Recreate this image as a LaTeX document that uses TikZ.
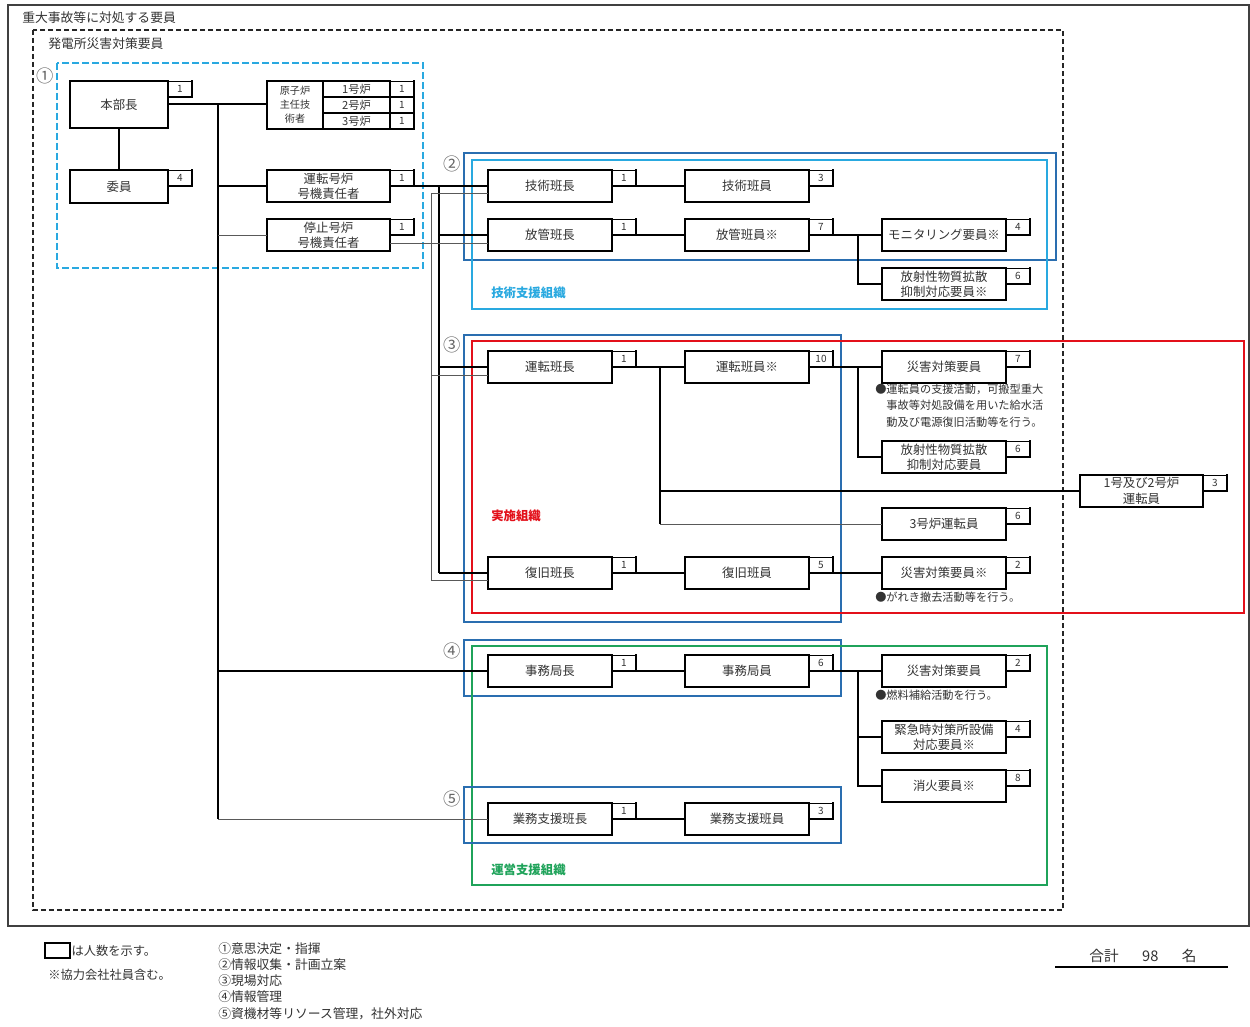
\documentclass[tikz,border=0pt]{standalone}
\usepackage{fontspec}
\setmainfont{Noto Sans CJK JP}
\usetikzlibrary{calc}
\definecolor{cyanB}{HTML}{29A9E0}
\definecolor{blueB}{HTML}{2A6EB0}
\definecolor{redB}{HTML}{E3101A}
\definecolor{greenB}{HTML}{1FA35A}
\definecolor{txt}{HTML}{333333}
\tikzset{
  wh/.style 2 args={minimum width=#1*0.75pt, minimum height=#2*0.75pt},
  shadowRB/.style={append after command={(\tikzlastnode.north east) edge[draw, line width=#1, line cap=rect] (\tikzlastnode.south east) (\tikzlastnode.south east) edge[draw, line width=#1, line cap=rect] (\tikzlastnode.south west)}},
  mbox/.style={draw, line width=1.2pt, fill=white, inner sep=0pt, outer sep=0pt, anchor=north west, align=center, text=txt, font=\fontsize{9.3}{11.5}\selectfont, shadowRB=1.9pt},
  cbox/.style={draw, line width=0.5pt, fill=white, inner sep=0pt, outer sep=0pt, anchor=north west, wh={24}{16}, text=txt, font=\fontsize{7.5}{8}\selectfont, shadowRB=1.2pt},
  thk/.style={line width=1.5pt, black},
  thm/.style={line width=1pt, black},
  thn/.style={line width=0.7pt, black!65},
  note/.style={text=txt, font=\fontsize{8.4}{12.2}\selectfont, align=left, inner sep=0pt},
  lbl/.style={text=txt, font=\fontsize{9.6}{12}\selectfont, inner sep=0pt},
  circ/.style={text=black!60, font=\fontsize{13}{14}\selectfont, inner sep=0pt},
}
\newcommand\mkbox[7]{%
  \node[mbox, wh={#4}{#5}] (#1) at (#2,#3) {#6};
  \node[cbox] (#1-n) at (#1.north east) {#7};}
\begin{document}
\begin{tikzpicture}[x=0.75pt,y=-0.75pt]
\useasboundingbox[fill=white] (0,0) rectangle (1250,1027);
% frames
\draw[line width=1pt, black!75] (8,5) rectangle (1249,926);
\draw[line width=1pt, dash pattern=on 4pt off 2pt, black!85] (33,30) rectangle (1063,910);
\draw[line width=1pt, dash pattern=on 5pt off 2.5pt, cyanB] (57,63) rectangle (423,268);
\draw[line width=1.2pt, blueB] (464,153) rectangle (1056,260);
\draw[line width=1.5pt, cyanB] (472,160) rectangle (1047,309);
\draw[line width=1pt, blueB] (464,335) rectangle (841,622);
\draw[line width=1.5pt, redB] (472,341) rectangle (1244,613);
\draw[line width=1.2pt, blueB] (464,640) rectangle (841,696);
\draw[line width=1.5pt, greenB] (472,646) rectangle (1047,885);
\draw[line width=1.2pt, blueB] (464,787) rectangle (841,843);
% titles
\node[lbl, anchor=west] (title) at (22,18) {重大事故等に対処する要員};
\node[lbl, anchor=west] (title2) at (48,44) {発電所災害対策要員};
\node[circ] (c1) at (45,76) {①};
\node[circ] (c2) at (452,164) {②};
\node[circ] (c3) at (452,345) {③};
\node[circ] (c4) at (452,651) {④};
\node[circ] (c5) at (452,799) {⑤};
\node[lbl, anchor=west, text=cyanB, font=\fontsize{9.3}{10}\selectfont\bfseries] (lg2) at (491,293) {技術支援組織};
\node[lbl, anchor=west, text=redB, font=\fontsize{9.3}{10}\selectfont\bfseries] (lg3) at (491,516) {実施組織};
\node[lbl, anchor=west, text=greenB, font=\fontsize{9.3}{10}\selectfont\bfseries] (lg4) at (491,870) {運営支援組織};
% headquarters group
\mkbox{hq}{70}{81}{98}{47}{本部長}{1}
\mkbox{iin}{70}{170}{98}{33}{委員}{4}
\node[mbox, wh={56}{48}, font=\fontsize{7.6}{10.5}\selectfont, shadowRB=1.2pt] (reac) at (267,81) {原子炉\\主任技\\術者};
\node[mbox, wh={67}{16}, line width=0.9pt, font=\fontsize{8.4}{9}\selectfont, shadowRB=1.2pt] (r1) at (323,81) {1号炉};
\node[mbox, wh={67}{16}, line width=0.9pt, font=\fontsize{8.4}{9}\selectfont, shadowRB=1.2pt] (r2) at (323,97) {2号炉};
\node[mbox, wh={67}{16}, line width=0.9pt, font=\fontsize{8.4}{9}\selectfont, shadowRB=1.2pt] (r3) at (323,113) {3号炉};
\node[cbox] (r1-n) at (r1.north east) {1};
\node[cbox] (r2-n) at (r2.north east) {1};
\node[cbox] (r3-n) at (r3.north east) {1};
\mkbox{unt}{267}{170}{123}{32}{運転号炉\\号機責任者}{1}
\mkbox{tei}{267}{219}{123}{32}{停止号炉\\号機責任者}{1}
% section 2
\mkbox{gic}{488}{170}{124}{32}{技術班長}{1}
\mkbox{gim}{685}{170}{124}{32}{技術班員}{3}
\mkbox{hkc}{488}{219}{124}{32}{放管班長}{1}
\mkbox{hkm}{685}{219}{124}{32}{放管班員※}{7}
\mkbox{mon}{882}{219}{124}{32}{モニタリング要員※}{4}
\mkbox{hos}{882}{268}{124}{32}{放射性物質拡散\\抑制対応要員※}{6}
% section 3
\mkbox{ukc}{488}{351}{124}{32}{運転班長}{1}
\mkbox{ukm}{685}{351}{124}{32}{運転班員※}{10}
\mkbox{sai1}{882}{351}{124}{32}{災害対策要員}{7}
\mkbox{hos2}{882}{441}{124}{32}{放射性物質拡散\\抑制対応要員}{6}
\mkbox{op12}{1080}{475}{123}{32}{1号及び2号炉\\運転員}{3}
\mkbox{op3}{882}{508}{124}{32}{3号炉運転員}{6}
\mkbox{fkc}{488}{557}{124}{32}{復旧班長}{1}
\mkbox{fkm}{685}{557}{124}{32}{復旧班員}{5}
\mkbox{sai2}{882}{557}{124}{32}{災害対策要員※}{2}
% section 4/5
\mkbox{jmc}{488}{655}{124}{32}{事務局長}{1}
\mkbox{jmm}{685}{655}{124}{32}{事務局員}{6}
\mkbox{sai3}{882}{655}{124}{32}{災害対策要員}{2}
\mkbox{kin}{882}{721}{124}{32}{緊急時対策所設備\\対応要員※}{4}
\mkbox{sho}{882}{770}{124}{32}{消火要員※}{8}
\mkbox{gyc}{488}{803}{124}{32}{業務支援班長}{1}
\mkbox{gym}{685}{803}{124}{32}{業務支援班員}{3}
% notes
\node[note, anchor=north west] (n1) at (875,384) {●運転員の支援活動，可搬型重大\\\hspace*{1em}事故等対処設備を用いた給水活\\\hspace*{1em}動及び電源復旧活動等を行う。};
\node[note, anchor=west] (n2) at (875,597) {●がれき撤去活動等を行う。};
\node[note, anchor=west] (n3) at (875,695) {●燃料補給活動を行う。};
% bus coordinates
\coordinate (trunkX) at (218,0);
\coordinate (busA) at (439,0);
\coordinate (busB) at (431,0);
\coordinate (brA) at (660,0);
\coordinate (brB) at (858,0);
% HQ connectors
\draw[thk] (hq.east) -- (hq.east -| reac.west);
\draw[thk] (hq.east -| trunkX) -- (gyc.west -| trunkX);
\draw[thk] (hq.south) -- (iin.north);
\draw[thk] (unt.west -| trunkX) -- (unt.west);
\draw[thn] (tei.west -| trunkX) -- (tei.west);
\draw[thk] (jmc.west -| trunkX) -- (jmc.west);
\draw[thn] (gyc.west -| trunkX) -- (gyc.west);
% buses to sections
\draw[thk] (unt.east) -- (unt.east -| gic.west);
\draw[thk] (unt.east -| busA) -- (fkc.west -| busA);
\draw[thk] (hkc.west -| busA) -- (hkc.west);
\draw[thk] (ukc.west -| busA) -- (ukc.west);
\draw[thk] (fkc.west -| busA) -- (fkc.west);
\coordinate (t1) at ([yshift=-6pt]tei.east);
\coordinate (t2) at ([yshift=-6pt]hkc.west);
\draw[thn] (t1) -- (t2);
\coordinate (g1) at ([yshift=-5.25pt]gic.west);
\coordinate (g2) at ([yshift=-5.25pt]fkc.west);
\coordinate (g3) at ([yshift=-6pt]ukc.west);
\draw[thn] (g1) -- (g1 -| busB) -- (g2 -| busB) -- (g2);
\draw[thn] (g3 -| busB) -- (g3);
% section 2 connectors
\draw[thk] (gic.east) -- (gim.west);
\draw[thm] (hkc.east) -- (hkm.west);
\draw[thk] (hkm.east) -- (mon.west);
\draw[thk] (hkm.east -| brB) |- (hos.west);
% section 3 connectors
\draw[thk] (ukc.east) -- (ukm.west);
\draw[thk] (ukc.east -| brA) -- (op3.west -| brA);
\draw[thk] (op12.west -| brA) -- (op12.west);
\draw[thn] (op3.west -| brA) -- (op3.west);
\draw[thk] (ukm.east) -- (sai1.west);
\draw[thk] (ukm.east -| brB) |- (hos2.west);
\draw[thk] (fkc.east) -- (fkm.west);
\draw[thk] (fkm.east) -- (sai2.west);
% section 4/5 connectors
\draw[thk] (jmc.east) -- (jmm.west);
\draw[thk] (jmm.east) -- (sai3.west);
\draw[thk] (jmm.east -| brB) |- (sho.west);
\draw[thm] (kin.west -| brB) -- (kin.west);
\draw[thm] (gyc.east) -- (gym.west);
% footer
\node[draw, line width=1.5pt, inner sep=0pt, outer sep=0pt, anchor=north west, wh={25}{15}] (leg) at (45,943) {};
\node[lbl, anchor=west, font=\fontsize{9.2}{10}\selectfont] (legt) at ([xshift=1pt]leg.east) {は人数を示す。};
\node[lbl, anchor=west, font=\fontsize{9.2}{10}\selectfont] (coop) at (48,975) {※協力会社社員含む。};
\node[lbl, anchor=north west, align=left, font=\fontsize{9.6}{12.2}\selectfont] (roles) at (218,942) {①意思決定・指揮\\②情報収集・計画立案\\③現場対応\\④情報管理\\⑤資機材等リソース管理，社外対応};
\node[lbl, font=\fontsize{11}{12}\selectfont] (total) at (1143,956) {合計\hspace{1.6em}98\hspace{1.6em}名};
\draw[line width=1.5pt] (1055,967) -- (1228,967);
\end{tikzpicture}
\end{document}
